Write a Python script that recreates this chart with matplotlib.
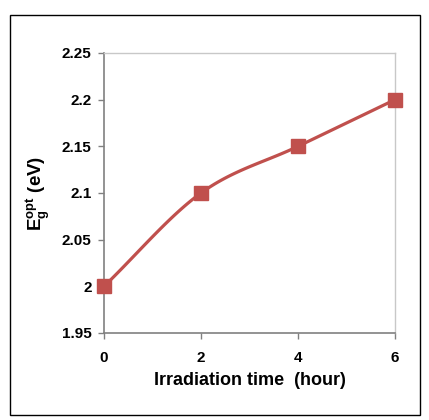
import numpy as np
import matplotlib.pyplot as plt
from matplotlib.patches import Rectangle

# data
time_h = [0, 2, 4, 6]
eg_opt = [2.0, 2.1, 2.15, 2.2]
x_ticks = [0, 2, 4, 6]
y_ticks = [1.95, 2.0, 2.05, 2.1, 2.15, 2.2, 2.25]
y_ticklabels = ['1.95', '2', '2.05', '2.1', '2.15', '2.2', '2.25']

red = '#C0504D'

plt.rcParams['font.family'] = 'Liberation Sans'
plt.rcParams['font.weight'] = 'bold'
plt.rcParams['mathtext.fontset'] = 'custom'
plt.rcParams['mathtext.rm'] = 'Liberation Sans:bold'
plt.rcParams['mathtext.it'] = 'Liberation Sans:bold'
plt.rcParams['mathtext.bf'] = 'Liberation Sans:bold'


def smooth(x, y, n=30):
    # Catmull-Rom style curve through the points, like Excel's smoothed line
    x = np.asarray(x, float)
    y = np.asarray(y, float)
    px = np.concatenate([[2 * x[0] - x[1]], x, [2 * x[-1] - x[-2]]])
    py = np.concatenate([[2 * y[0] - y[1]], y, [2 * y[-1] - y[-2]]])
    xs, ys = [], []
    t = np.linspace(0, 1, n)
    for i in range(1, len(px) - 2):
        for p, out in ((px, xs), (py, ys)):
            p0, p1, p2, p3 = p[i - 1], p[i], p[i + 1], p[i + 2]
            out.extend(0.5 * ((2 * p1) + (-p0 + p2) * t
                              + (2 * p0 - 5 * p1 + 4 * p2 - p3) * t ** 2
                              + (-p0 + 3 * p1 - 3 * p2 + p3) * t ** 3))
    return xs, ys


fig = plt.figure(figsize=(4.29, 4.20), dpi=100)
ax = fig.add_axes([104 / 429, 1 - 333 / 420, 291 / 429, 280 / 420])

sx, sy = smooth(time_h, eg_opt)
ax.plot(sx, sy, color=red, lw=2.3, zorder=2)
ax.plot(time_h, eg_opt, ls='none', marker='s', ms=10, color=red, zorder=3, clip_on=False)

ax.set_xlim(0, 6)
ax.set_ylim(1.95, 2.25)
ax.set_xticks(x_ticks)
ax.set_yticks(y_ticks)
ax.set_yticklabels(y_ticklabels)
ax.tick_params(labelsize=11, length=4, width=1, color='#808080', direction='out')
ax.tick_params(axis='x', pad=9)
ax.tick_params(axis='y', pad=5)
for s in ['left', 'bottom']:
    ax.spines[s].set_color('#808080')
    ax.spines[s].set_linewidth(1.2)
for s in ['top', 'right']:
    ax.spines[s].set_color('#C8C8C8')
    ax.spines[s].set_linewidth(1)

ax.set_xlabel('Irradiation time  (hour)', fontsize=13, fontweight='bold', labelpad=5)
ax.set_ylabel(r'$\mathregular{E_g^{opt}}$ (eV)', fontsize=13.5, fontweight='bold', labelpad=7)

fig.patches.append(Rectangle((10 / 429, 1 - 415 / 420), 410 / 429, 400 / 420,
                             transform=fig.transFigure, fill=False, ec='black', lw=1))

fig.savefig('out.png', dpi=100)
